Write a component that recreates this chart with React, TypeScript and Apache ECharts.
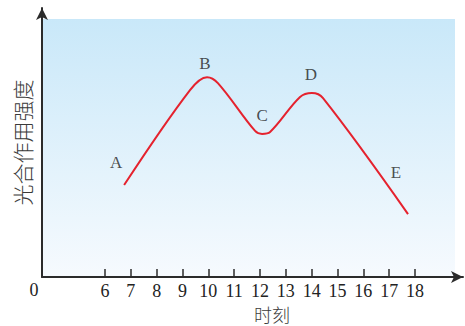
import React, { useEffect, useRef } from "react";
import * as echarts from "echarts";

// hours on the x axis (tick labels)
const hourTicks = [6, 7, 8, 9, 10, 11, 12, 13, 14, 15, 16, 17, 18];
// photosynthesis curve: [hour, intensity]
const curveHours = [6.74, 9.29, 9.95, 10.37, 11.81, 12.08, 12.39, 13.55, 14.01, 14.44, 17.73];
const curveValues = [34.2, 69.5, 74.3, 72.1, 54.3, 53.2, 53.9, 66.9, 68.4, 66.5, 23.4];
// point letters: name, hour, intensity
const letterNames = ["A", "B", "C", "D", "E"];
const letterHours = [6.43, 9.87, 12.08, 13.97, 17.26];
const letterValues = [42.4, 79.2, 59.9, 75.1, 39.0];

const X_MIN = 3.561;
const X_MAX = 19.858;

export default function App() {
  const ref = useRef<HTMLDivElement>(null);
  useEffect(() => {
    if (!ref.current) return;
    const chart = echarts.init(ref.current, null, { renderer: "svg" });
    const axisColor = "#2b2b2b";
    chart.setOption({
      animation: false,
      grid: { left: 42, right: 2, top: 8, bottom: 49 },
      xAxis: {
        type: "value",
        min: X_MIN,
        max: X_MAX,
        axisLine: {
          show: true,
          symbol: ["none", "arrow"],
          symbolSize: [9, 12],
          lineStyle: { color: axisColor, width: 2 },
        },
        axisTick: {
          show: true,
          customValues: hourTicks,
          inside: true,
          length: 8,
          lineStyle: { color: axisColor, width: 1.5 },
        },
        axisLabel: {
          show: true,
          customValues: hourTicks,
          fontFamily: "Liberation Serif",
          fontSize: 18,
          color: "#222",
          margin: 5,
        },
        splitLine: { show: false },
      },
      yAxis: {
        type: "value",
        min: 0,
        max: 100,
        name: "光合作用强度",
        nameLocation: "middle",
        nameGap: 10,
        nameTextStyle: {
          fontFamily: "Noto Sans CJK SC",
          fontSize: 21,
          fontWeight: 300,
          color: "#3a3a3a",
        },
        axisLine: {
          show: true,
          symbol: ["none", "arrow"],
          symbolSize: [9, 12],
          lineStyle: { color: axisColor, width: 2 },
        },
        axisTick: { show: false },
        axisLabel: { show: false },
        splitLine: { show: false },
      },
      graphic: [
        {
          type: "rect",
          z: -10,
          shape: { x: 43, y: 19, width: 412, height: 257 },
          style: {
            fill: new echarts.graphic.LinearGradient(0, 0, 0, 1, [
              { offset: 0, color: "#c9e8f9" },
              { offset: 1, color: "#f6fafe" },
            ]),
          },
        },
        {
          type: "text",
          x: 34,
          y: 290,
          style: {
            text: "0",
            fontFamily: "Liberation Serif",
            fontSize: 18,
            fill: "#222",
            textAlign: "center",
            textVerticalAlign: "middle",
          },
        },
        {
          type: "text",
          x: 272,
          y: 314,
          style: {
            text: "时刻",
            fontFamily: "Noto Sans CJK SC",
            fontSize: 18,
            fontWeight: 300,
            fill: "#3a3a3a",
            textAlign: "center",
            textVerticalAlign: "middle",
          },
        },
      ],
      series: [
        {
          type: "line",
          data: curveHours.map((h, i) => [h, curveValues[i]]),
          smooth: 0.35,
          symbol: "none",
          lineStyle: { color: "#e5222e", width: 2 },
        },
        {
          type: "scatter",
          symbolSize: 0,
          data: letterNames.map((n, i) => ({ name: n, value: [letterHours[i], letterValues[i]] })),
          label: {
            show: true,
            position: "inside",
            formatter: "{b}",
            fontFamily: "Liberation Serif",
            fontSize: 17,
            color: "#222",
          },
        },
      ],
    });
    return () => chart.dispose();
  }, []);
  return <div ref={ref} style={{ width: 465, height: 326, position: "absolute", left: 0, top: 0 }} />;
}
